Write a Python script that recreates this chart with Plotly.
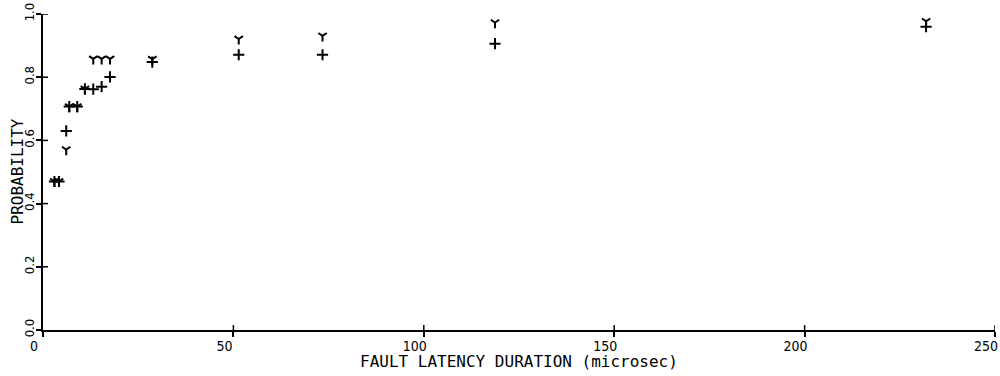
import plotly.graph_objects as go

# Fault latency duration (microsec)
latency = [3.0, 4.2, 6.1, 6.9, 9.0, 11.0, 13.2, 15.4, 17.6, 28.7, 51.4, 73.4, 118.7, 231.9]
# "+" series
prob_plus = [0.470, 0.470, 0.630, 0.707, 0.707, 0.763, 0.762, 0.770, 0.801, 0.848, 0.871, 0.871, 0.906, 0.960]
# "Y" series
prob_y = [0.470, 0.470, 0.571, 0.707, 0.707, 0.763, 0.858, 0.858, 0.858, 0.857, 0.921, 0.931, 0.973, 0.977]

x_ticks = [0, 50, 100, 150, 200, 250]
x_tick_text = ["0", "50", "100", "150", "200", "250"]
y_ticks = [0.0, 0.2, 0.4, 0.6, 0.8, 1.0]
y_tick_text = ["0.0", "0.2", "0.4", "0.6", "0.8", "1.0"]

LABEL_FONT = "Liberation Sans Narrow, DejaVu Sans Condensed, Arial Narrow, sans-serif"
TITLE_FONT = "DejaVu Sans Mono, Liberation Mono, monospace"

PLOT_W = 952
PLOT_H = 316

fig = go.Figure()
fig.add_trace(go.Scatter(
    x=latency, y=prob_plus, mode="markers", name="+",
    marker=dict(symbol="cross-thin", size=8, color="black",
                line=dict(width=2, color="black")),
))
fig.add_trace(go.Scatter(
    x=latency, y=prob_y, mode="markers", name="Y",
    marker=dict(symbol="y-down", size=7, color="black",
                line=dict(width=2, color="black")),
))

# inner halves of the crossing tick marks
shapes = []
for t in x_ticks[1:]:
    shapes.append(dict(type="line", xref="x", yref="paper", x0=t, x1=t,
                       y0=0, y1=5 / PLOT_H, line=dict(color="black", width=1.5)))
for t in y_ticks[1:]:
    shapes.append(dict(type="line", xref="paper", yref="y", x0=0, x1=5 / PLOT_W,
                       y0=t, y1=t, line=dict(color="black", width=1.5)))

fig.update_layout(
    width=1000, height=376,
    margin=dict(l=43, r=5, t=14, b=46),
    plot_bgcolor="white", paper_bgcolor="white",
    showlegend=False,
    shapes=shapes,
    xaxis=dict(
        range=[0, 250], tickvals=x_ticks, ticktext=x_tick_text,
        automargin=False,
        showgrid=False, zeroline=False, showline=True,
        linecolor="black", linewidth=1.5,
        ticks="outside", ticklen=5, tickwidth=1.5, tickcolor="black",
        ticklabelshift=-9, ticklabelstandoff=-3,
        tickfont=dict(family=LABEL_FONT, size=14, color="black"),
    ),
    yaxis=dict(
        range=[0, 1], tickvals=y_ticks, ticktext=y_tick_text,
        automargin=False,
        showgrid=False, zeroline=False, showline=True,
        linecolor="black", linewidth=1.5,
        ticks="outside", ticklen=5, tickwidth=1.5, tickcolor="black",
        tickangle=-90, ticklabelstandoff=-3,
        tickfont=dict(family=LABEL_FONT, size=13, color="black"),
    ),
    annotations=[
        dict(
            text="PROBABILITY", textangle=-90, showarrow=False,
            xref="paper", yref="paper", x=-26.5 / PLOT_W, y=0.5,
            xanchor="center", yanchor="middle",
            font=dict(family=TITLE_FONT, size=16, color="black"),
        ),
        dict(
            text="FAULT LATENCY DURATION (microsec)", showarrow=False,
            xref="paper", yref="paper", x=0.5, y=-31 / PLOT_H,
            xanchor="center", yanchor="middle",
            font=dict(family=TITLE_FONT, size=16, color="black"),
        ),
    ],
)

fig.write_html(
    "out.html",
    config={"displayModeBar": False},
    post_script="document.body.style.margin='0px';document.body.style.overflow='hidden';",
)
